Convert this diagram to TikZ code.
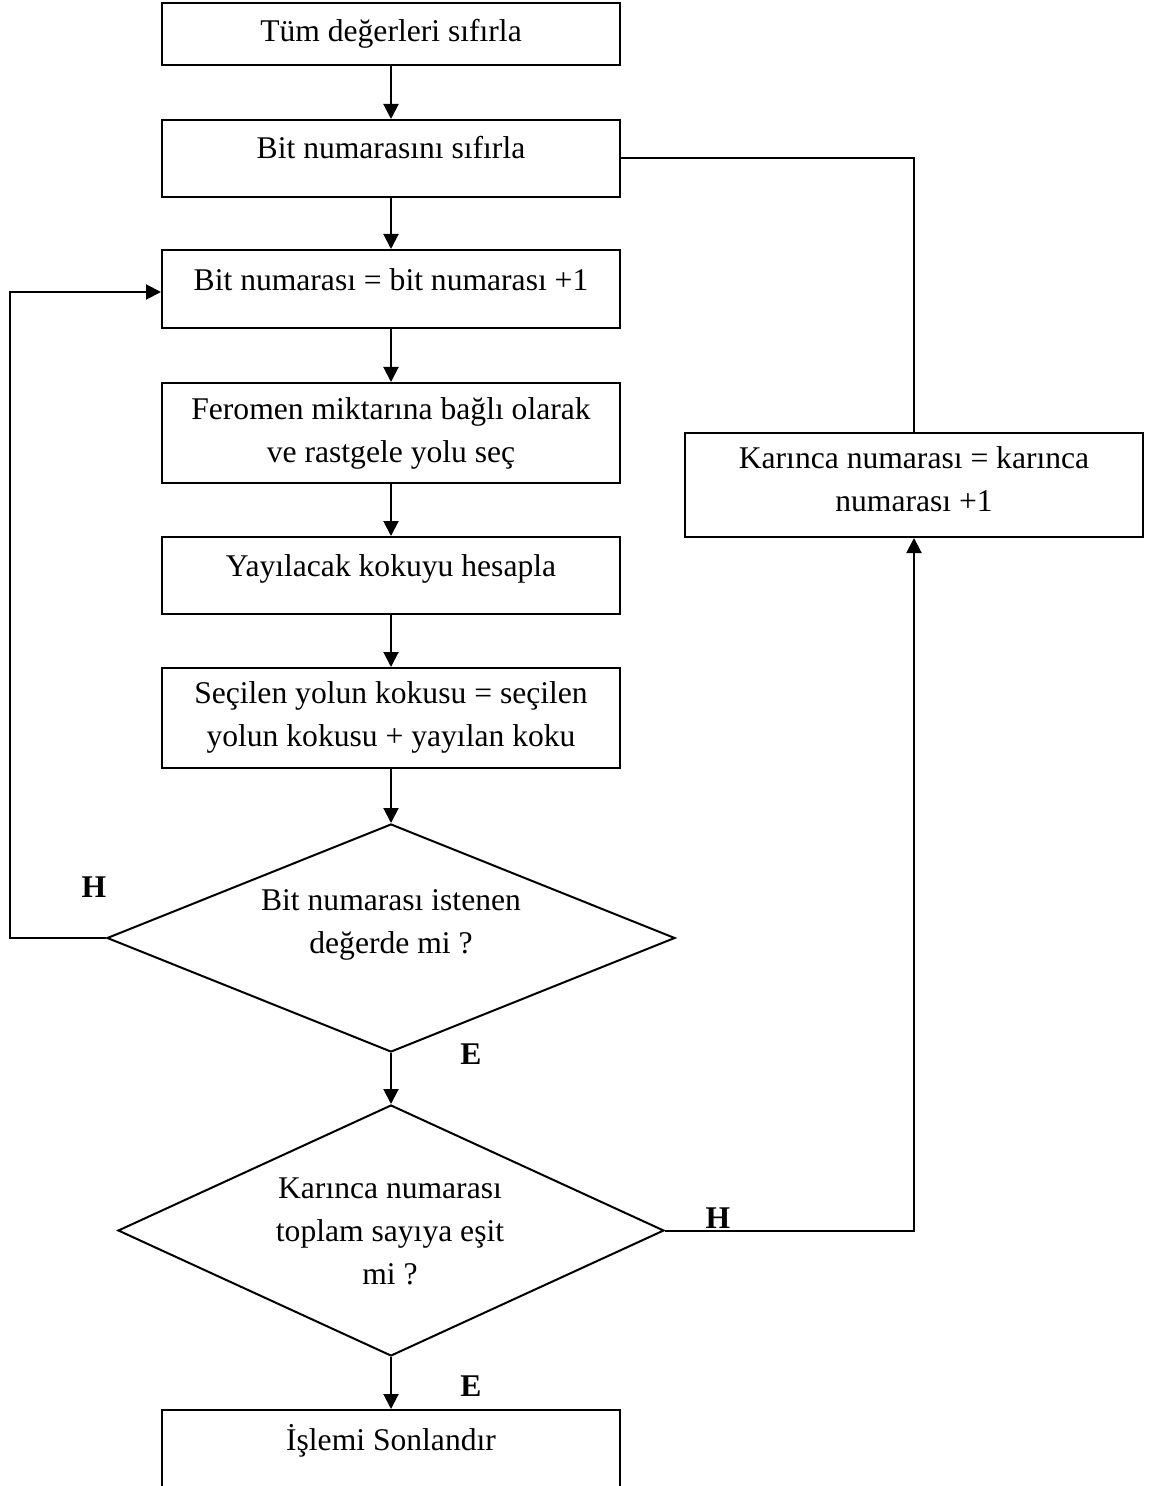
\documentclass[tikz,border=0pt]{standalone}
\usepackage{fontspec}
\setmainfont{Liberation Serif}
\usetikzlibrary{shapes.geometric,arrows.meta}
\newcommand{\tx}{\fontsize{15.8pt}{21.5pt}\selectfont}
\tikzset{
  box/.style={draw, line width=1pt, rectangle, inner sep=0pt, minimum width=229pt},
  dia/.style={draw, line width=1pt, diamond, inner sep=0pt},
  txt/.style={inner sep=0pt, align=center, font=\tx, execute at begin node=\strut, execute at end node=\strut},
  lbl/.style={inner sep=0pt, font=\tx\bfseries, anchor=base},
  arr/.style={line width=1pt, -{Triangle[length=7.5pt,width=7.5pt]}},
  ln/.style={line width=1pt}
}
\begin{document}
\begin{tikzpicture}[x=0.5pt,y=-0.5pt]
\useasboundingbox (0,0) rectangle (1152,1486);
\clip (0,0) rectangle (1152,1486);
% boxes
\node[box, minimum height=31pt] (b1) at (391,34) {};
\node[box, minimum height=38.5pt] (b2) at (391,158.5) {};
\node[box, minimum height=39pt] (b3) at (391,289) {};
\node[box, minimum height=50pt] (b4) at (391,433) {};
\node[box, minimum height=38.5pt] (b5) at (391,575.5) {};
\node[box, minimum height=50pt] (b6) at (391,718) {};
\node[box, minimum height=52pt] (rb) at (914,485) {};
\node[box, minimum height=50pt] (b7) at (391,1460) {};
\node[dia, minimum width=284pt, minimum height=114pt] (d1) at (391,938) {};
\node[dia, minimum width=273pt, minimum height=125.5pt] (d2) at (391,1230.5) {};
% texts
\node[txt] (t1) at (391,33) {Tüm değerleri sıfırla};
\node[txt] (t2) at (391,150) {Bit numarasını sıfırla};
\node[txt] (t3) at (391,282) {Bit numarası = bit numarası +1};
\node[txt] (t4) at (391,436) {Feromen miktarına bağlı olarak\\ve rastgele yolu seç};
\node[txt] (t5) at (391,568) {Yayılacak kokuyu hesapla};
\node[txt] (t6) at (391,720) {Seçilen yolun kokusu = seçilen\\yolun kokusu + yayılan koku};
\node[txt] (t7) at (391,927.5) {Bit numarası istenen\\değerde mi ?};
\node[txt] (t8) at (390,1237.5) {Karınca numarası\\toplam sayıya eşit\\mi ?};
\node[txt] (t9) at (914,485) {Karınca numarası = karınca\\numarası +1};
\node[txt] (t10) at (391,1442) {İşlemi Sonlandır};
% labels
\node[lbl] (h1) at (94,897) {H};
\node[lbl] (e1) at (471,1064) {E};
\node[lbl] (h2) at (718,1228) {H};
\node[lbl] (e2) at (471,1396) {E};
% connectors
\coordinate (lx) at (10,0);
\draw[arr] (b1.south) -- (b2.north);
\draw[arr] (b2.south) -- (b3.north);
\draw[arr] (b3.south) -- (b4.north);
\draw[arr] (b4.south) -- (b5.north);
\draw[arr] (b5.south) -- (b6.north);
\draw[arr] (b6.south) -- (d1.north);
\draw[arr] (d1.south) -- (d2.north);
\draw[arr] (d2.south) -- (b7.north);
\draw[arr] (d1.west) -- (d1.west -| lx) |- ([yshift=-1.5pt]b3.west);
\draw[arr] (d2.east) -| (rb.south);
\draw[ln] (b2.east) -| (rb.north);
\end{tikzpicture}
\end{document}
